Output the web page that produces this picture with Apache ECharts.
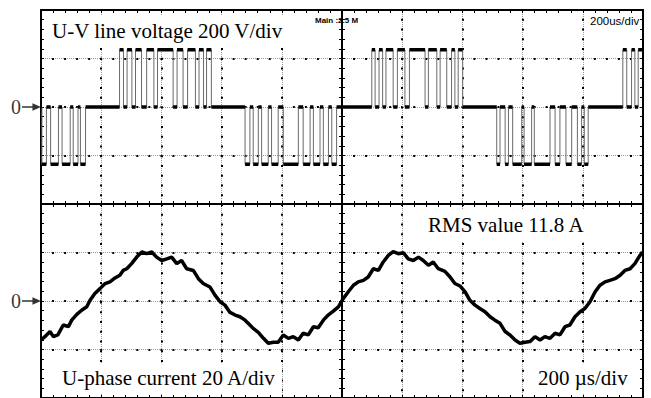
<!DOCTYPE html>
<html>
<head>
<meta charset="utf-8">
<script src="https://cdn.jsdelivr.net/npm/echarts@6/dist/echarts.min.js"></script>
<style>
html, body {margin: 0; padding: 0; background: #fff;}
#scope {width: 651px; height: 398px;}
</style>
</head>
<body>
<div id="scope"></div>
<script>
// time in us, relative to trigger (screen centre), 200 us/div
var aVoltEdges = [
    -1000, -997, -982, -968, -942, -930, -903, -893, -877, -869, -852,
    -739, -726, -714, -698, -686, -666, -649, -625, -613, -561, -548, -528, -513, -487, -475, -460, -450, -434,
    -322, -306, -295, -278, -267, -245, -234, -212, -195, -145, -129, -106, -95, -73, -62, -45, -34, -18,
    99, 110, 123, 135, 146, 170, 184, 209, 224, 276, 287, 315, 326, 348, 364, 375, 386, 401,
    514, 525, 542, 553, 567, 597, 605, 630, 639, 691, 708, 724, 744, 763, 782, 796, 805, 818,
    933, 946, 962, 973, 984, 1000
];
// line voltage (V) held between two edges
var aVoltLevels = [
    0, -236, 0, -236, 0, -236, 0, -236, 0, -236, 0,
    236, 0, 236, 0, 236, 0, 236, 0, 236, 0, 236, 0, 236, 0, 236, 0, 236, 0,
    -236, 0, -236, 0, -236, 0, -236, 0, -236, 0, -236, 0, -236, 0, -236, 0, -236, 0,
    236, 0, 236, 0, 236, 0, 236, 0, 236, 0, 236, 0, 236, 0, 236, 0, 236, 0,
    -236, 0, -236, 0, -236, 0, -236, 0, -236, 0, -236, 0, -236, 0, -236, 0, -236, 0,
    236, 0, 236, 0, 236
];
var aCurrTime = [
    -1000, -987, -970, -959, -944, -926, -909, -898, -881, -865, -848, -837, -821, -804, -787, -771,
    -754, -738, -727, -715, -699, -682, -665, -649, -632, -616, -599, -582, -566, -549, -533, -516,
    -494, -477, -461, -439, -422, -405, -389, -372, -355, -339, -322, -306, -295, -278, -261, -245,
    -228, -212, -195, -178, -162, -145, -129, -112, -95, -79, -62, -46, -29, -12,
    4, 21, 38, 54, 71, 87, 104, 121, 137, 154, 170, 187, 204, 220, 237, 254,
    270, 287, 303, 320, 342, 359, 375, 392, 409, 425, 442, 458, 475, 492, 508, 525,
    542, 558, 575, 591, 608, 625, 641, 658, 674, 691, 708, 724, 741, 757, 774, 791,
    807, 824, 841, 857, 874, 890, 907, 924, 940, 957, 973, 990, 998
];
// phase current (A)
var aCurrAmp = [
    -16.1, -14.7, -12.6, -14.7, -14.0, -9.9, -10.6, -7.9, -5.5, -3.8, -2.4, 0.3, 3.1, 5.1, 7.2, 7.9,
    9.5, 10.6, 12.6, 13.3, 15.4, 18.1, 20.2, 19.5, 20.2, 18.1, 16.7, 17.4, 18.1, 15.4, 16.7, 13.3,
    12.6, 9.2, 7.2, 5.8, 2.4, -0.3, -1.7, -4.7, -5.8, -6.5, -7.9, -9.9, -11.3, -12.9, -15.4, -17.4,
    -17.0, -17.0, -14.0, -15.4, -14.7, -16.1, -13.3, -14.0, -10.6, -11.0, -7.9, -5.8, -4.2, -2.4,
    1.0, 3.8, 6.5, 7.9, 8.5, 9.9, 13.3, 12.6, 16.1, 18.8, 20.4, 19.5, 19.9, 17.4, 16.7, 18.1,
    16.7, 14.7, 16.1, 13.3, 12.2, 9.9, 7.2, 6.2, 3.8, 0.3, -1.7, -3.1, -4.4, -6.5, -7.9, -9.2,
    -12.6, -14.0, -16.1, -17.4, -17.0, -16.7, -14.7, -16.1, -14.7, -15.4, -13.3, -14.0, -10.6, -9.9, -6.5, -4.4,
    -3.1, -0.3, 3.8, 6.5, 7.9, 8.5, 9.2, 10.6, 12.6, 13.3, 15.4, 18.8, 20.2
];
var iVoltPerDiv = 200;
var iAmpPerDiv = 20;
var aChOffset = [2, -2];   // ground marker of CH1 / CH2, in div
var aTimeRange = [-1000, 1000];
var aDivRange = [-4, 4];

var sVoltLabel = 'U-V line voltage 200 V/div';
var sCurrLabel = 'U-phase current 20 A/div';
var sRmsLabel = 'RMS value 11.8 A';
var sTimeLabel = '200 \u00b5s/div';
var sMainLabel = 'Main :2.5 M';
var sScaleLabel = '200us/div';

var sSerif = '"Liberation Serif", "Times New Roman", serif';
var sSans = '"Liberation Sans", Arial, sans-serif';

function VoltTrace() {
    var aEdge = [];
    var aFlat = [];
    for (var i = 0; i < aVoltLevels.length; i++) {
        var fY = aChOffset[0] + aVoltLevels[i] / iVoltPerDiv;
        aEdge.push([aVoltEdges[i], fY]);
        aEdge.push([aVoltEdges[i + 1], fY]);
        aFlat.push([aVoltEdges[i], fY]);
        aFlat.push([aVoltEdges[i + 1], fY]);
        aFlat.push([aVoltEdges[i + 1], '-']);
    }
    return {'edge': aEdge, 'flat': aFlat};
}

function CurrTrace() {
    var aData = [];
    for (var i = 0; i < aCurrTime.length; i++) {
        aData.push([aCurrTime[i], aChOffset[1] + aCurrAmp[i] / iAmpPerDiv]);
    }
    return aData;
}

function ScopeAxis(aRange, iStep, sPos, bOnZero, bInside, bLine) {
    return {
        type: 'value',
        min: aRange[0],
        max: aRange[1],
        interval: iStep,
        position: sPos,
        axisLine: {show: bLine, onZero: bOnZero, lineStyle: {color: '#000', width: 2}},
        axisTick: {show: true, inside: bInside, length: 3, lineStyle: {color: '#000', width: 1}},
        minorTick: {show: true, splitNumber: 5, length: 3, lineStyle: {color: '#000', width: 1}},
        axisLabel: {show: false},
        splitLine: {show: false}
    };
}

function Label(sText, iLeft, iTop, iSize, sFont, sWeight, bBox) {
    return {
        text: sText,
        left: iLeft,
        top: iTop,
        padding: bBox ? [4, 6, 6, 6] : 0,
        backgroundColor: bBox ? '#fff' : 'transparent',
        textStyle: {color: '#000', fontSize: iSize, fontFamily: sFont, fontWeight: sWeight}
    };
}

function GetOption() {
    var jVolt = VoltTrace();
    var faint = {show: true, lineStyle: {color: '#9a9a9a', width: 1, type: [1, 1]}};

    // graticule: faint dotted lines + black dots every 1/5 div
    var x0 = ScopeAxis(aTimeRange, 200, 'bottom', true, true, true);
    x0.splitLine = faint;
    var x1 = ScopeAxis(aTimeRange, 200, 'bottom', true, false, false);
    x1.splitLine = {show: true, lineStyle: {color: '#000', width: 2, type: [1, 7.75, 1, 0]}};
    var x2 = ScopeAxis(aTimeRange, 200, 'top', false, true, true);
    var x3 = ScopeAxis(aTimeRange, 200, 'bottom', false, true, true);

    var y0 = ScopeAxis(aDivRange, 1, 'left', true, true, true);
    y0.splitLine = faint;
    var y1 = ScopeAxis(aDivRange, 1, 'left', true, false, false);
    y1.splitLine = {show: true, lineStyle: {color: '#000', width: 2, type: [1, 10.04, 1, 0]}};
    var y2 = ScopeAxis(aDivRange, 1, 'left', false, true, true);
    var y3 = ScopeAxis(aDivRange, 1, 'right', false, true, true);

    return {
        animation: false,
        backgroundColor: '#fff',
        grid: {left: 41, top: 10, width: 602, height: 390},
        title: [
            Label(sVoltLabel, 46, 16, 21, sSerif, 'normal', true),
            Label(sRmsLabel, 422, 210, 21, sSerif, 'normal', true),
            Label(sCurrLabel, 56, 363, 21, sSerif, 'normal', true),
            Label(sTimeLabel, 532, 363, 21, sSerif, 'normal', true),
            Label(sMainLabel, 315, 16, 8, sSans, 'bold', false),
            Label(sScaleLabel, 590, 15, 11.5, sSans, 'normal', false)
        ],
        xAxis: [x0, x1, x2, x3],
        yAxis: [y0, y1, y2, y3],
        series: [
            {
                name: 'U-V edges', type: 'line', z: 3, showSymbol: false,
                lineStyle: {color: '#6a6a6a', width: 1},
                data: jVolt['edge']
            },
            {
                name: 'U-V flats', type: 'line', z: 4, showSymbol: false,
                lineStyle: {color: '#000', width: 3.5},
                data: jVolt['flat']
            },
            {
                name: 'U current', type: 'line', z: 4, showSymbol: false,
                lineStyle: {color: '#000', width: 3.5},
                data: CurrTrace()
            },
            {
                name: 'ground', type: 'scatter', z: 5, clip: false,
                symbol: 'path://M0,3.2 L11,3.2 L11,0 L20,4 L11,8 L11,4.8 L0,4.8 Z',
                symbolSize: [19, 7.5],
                symbolOffset: [-9.5, 0],
                itemStyle: {color: '#000'},
                label: {
                    show: true, position: 'left', distance: 1, formatter: '0',
                    color: '#000', fontSize: 20, fontFamily: sSerif
                },
                data: [[aTimeRange[0], aChOffset[0]], [aTimeRange[0], aChOffset[1]]]
            }
        ]
    };
}

function SetOption(jOption, sTagID) {
    var oDom = document.getElementById(sTagID);
    // svg: keeps every dash pattern on its own element
    var myChart = echarts.init(oDom, null, {renderer: 'svg'});
    myChart.setOption(jOption);
    return myChart;
}

SetOption(GetOption(), 'scope');
</script>
</body>
</html>
